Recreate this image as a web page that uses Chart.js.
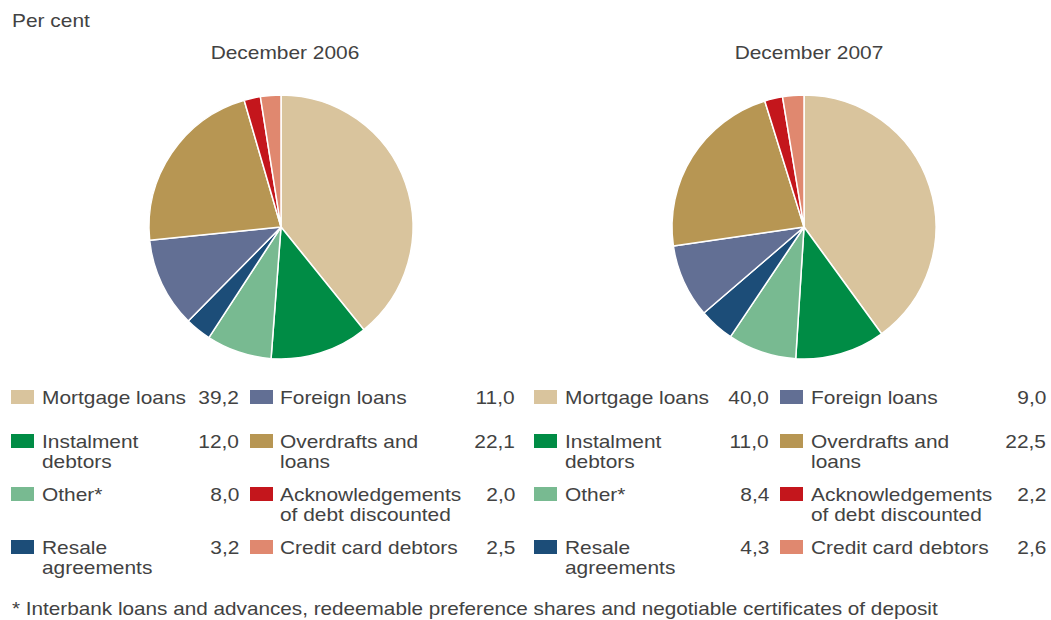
<!DOCTYPE html>
<html>
<head>
<meta charset="utf-8">
<script src="https://cdn.jsdelivr.net/npm/chart.js@4"></script>
<style>
  html, body { margin: 0; padding: 0; background: #fff; }
  body { width: 1051px; height: 620px; position: relative; overflow: hidden;
         font-family: "Liberation Sans", Arial, sans-serif; color: #424242; }
  .t { position: absolute; font-size: 19px; line-height: 20px; white-space: nowrap; }
  .l { transform: scaleX(1.1); transform-origin: left top; }
  .r { transform: scaleX(1.1); transform-origin: right top; text-align: right; }
  .c { transform: scaleX(1.1); transform-origin: center top; text-align: center; }
  .sw { position: absolute; width: 23px; height: 14px; }
  .pie { position: absolute; width: 280px; height: 280px; }
</style>
</head>
<body>
<div class="t l" style="left:12px;top:11px;">Per cent</div>
<div class="pie" style="left:141px;top:87px;"><canvas id="pie2006"></canvas></div>
<div class="pie" style="left:664px;top:87px;"><canvas id="pie2007"></canvas></div>
<div id="legends"></div>
<div class="t l" style="left:12px;top:599px;transform:scaleX(1.09);">* Interbank loans and advances, redeemable preference shares and negotiable certificates of deposit</div>

<script>
// ---- data ----
const categories = ["Mortgage loans", "Instalment debtors", "Other*", "Resale agreements",
                    "Foreign loans", "Overdrafts and loans", "Acknowledgements of debt discounted", "Credit card debtors"];
const legendLabels = [["Mortgage loans"], ["Instalment", "debtors"], ["Other*"], ["Resale", "agreements"],
                      ["Foreign loans"], ["Overdrafts and", "loans"], ["Acknowledgements", "of debt discounted"], ["Credit card debtors"]];
const panelTitles = ["December 2006", "December 2007"];
const values2006 = [39.2, 12.0, 8.0, 3.2, 11.0, 22.1, 2.0, 2.5];
const values2007 = [40.0, 11.0, 8.4, 4.3, 9.0, 22.5, 2.2, 2.6];
const colors = ["#d9c49d", "#008c45", "#78ba91", "#1c4d78", "#626f94", "#b79653", "#c4161c", "#e0886f"];

// ---- charts ----
function makePie(id, values, title) {
  return new Chart(document.getElementById(id), {
    type: "pie",
    data: {
      labels: categories,
      datasets: [{ data: values, backgroundColor: colors, borderColor: "#ffffff", borderWidth: 1.5 }]
    },
    options: {
      responsive: true,
      maintainAspectRatio: false,
      animation: false,
      radius: 132,
      layout: { padding: 0 },
      plugins: {
        legend: { display: false },
        tooltip: { enabled: false },
        title: { display: false, text: title }
      }
    }
  });
}
makePie("pie2006", values2006, panelTitles[0]);
makePie("pie2007", values2007, panelTitles[1]);

// ---- titles and legends (HTML text) ----
const host = document.getElementById("legends");
function addText(cls, text, left, top) {
  const d = document.createElement("div");
  d.className = "t " + cls;
  d.style.top = top + "px";
  if (cls === "r") { d.style.right = (1051 - left) + "px"; }
  else if (cls === "c") { d.style.left = (left - 150) + "px"; d.style.width = "300px"; }
  else { d.style.left = left + "px"; }
  d.innerHTML = text;
  host.appendChild(d);
}
const panelCenters = [285, 809];
panelTitles.forEach((t, i) => addText("c", t, panelCenters[i], 43));

const rowBaselines = [405, 449, 502, 555];
const blocks = [
  { values: values2006, cols: [{ sw: 11, lab: 42, val: 239 }, { sw: 250, lab: 280, val: 515 }] },
  { values: values2007, cols: [{ sw: 534, lab: 565, val: 769 }, { sw: 780, lab: 811, val: 1046 }] }
];
blocks.forEach(b => {
  categories.forEach((cat, i) => {
    const col = b.cols[Math.floor(i / 4)];
    const base = rowBaselines[i % 4];
    const sw = document.createElement("div");
    sw.className = "sw";
    sw.style.left = col.sw + "px";
    sw.style.top = (base - 15) + "px";
    sw.style.background = colors[i];
    host.appendChild(sw);
    addText("l", legendLabels[i].join("<br>"), col.lab, base - 16.6);
    addText("r", b.values[i].toFixed(1).replace(".", ","), col.val, base - 16.6);
  });
});
</script>
</body>
</html>
